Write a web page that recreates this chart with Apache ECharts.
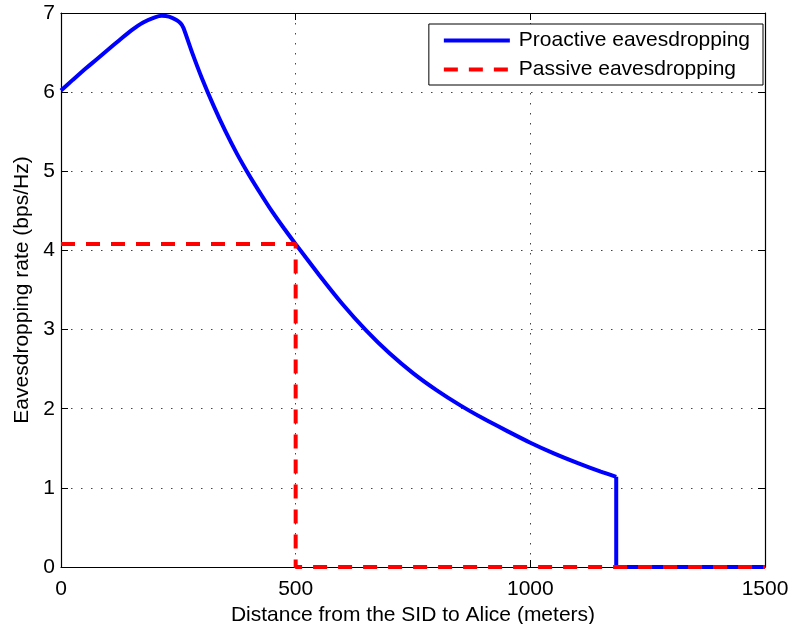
<!DOCTYPE html>
<html>
<head>
<meta charset="utf-8">
<script src="https://cdn.jsdelivr.net/npm/echarts@6/dist/echarts.min.js"></script>
<style>
html,body{margin:0;padding:0;background:#fff;}
#chart{width:789px;height:624px;}
</style>
</head>
<body>
<div id="chart"></div>
<script>
// Data
// Proactive eavesdropping: smooth part of the curve
const curveDistances = [0,25,50,75,100,125,150,175,200,215,230,245,255,261,280,300,325,350,375,400,425,450,475,500,550,600,650,700,750,800,850,900,950,1000,1050,1100,1150,1183];
const curveRates = [6.02,6.155,6.285,6.41,6.535,6.66,6.78,6.88,6.945,6.965,6.955,6.915,6.87,6.81,6.49,6.18,5.83,5.51,5.22,4.96,4.72,4.49,4.28,4.08,3.69,3.32,2.99,2.70,2.45,2.235,2.045,1.875,1.72,1.57,1.435,1.315,1.205,1.14];
// Proactive eavesdropping: drop to zero and zero tail
const dropDistances = [1183,1183,1500];
const dropRates = [1.14,0,0];
// Passive eavesdropping
const passiveX = [0,500,500,1500];
const passiveY = [4.08,4.08,0,0];
const xTicks = [0,500,1000,1500];
const yTicks = [0,1,2,3,4,5,6,7];
const seriesNames = ['Proactive eavesdropping','Passive eavesdropping'];

const FONT = "'Liberation Sans', Arial, Helvetica, sans-serif";
const FS = 21;
const curveData = curveDistances.map((d,i)=>[d, curveRates[i]]);
const dropData = dropDistances.map((d,i)=>[d, dropRates[i]]);
const passiveData = passiveX.map((d,i)=>[d, passiveY[i]]);

const gridLine = {show:true, lineStyle:{color:'#444', width:1, type:[1.5,8.5]}};
const chart = echarts.init(document.getElementById('chart'), null, {renderer:'canvas'});
chart.setOption({
  animation:false,
  backgroundColor:'#fff',
  textStyle:{fontFamily:FONT},
  grid:{left:61, right:24, top:13, bottom:57, containLabel:false, outerBoundsMode:'none'},
  legend:{
    orient:'vertical', right:26, top:24,
    padding:[6,13,5,13], itemGap:8, itemWidth:66, itemHeight:14,
    backgroundColor:'#fff', borderColor:'#000', borderWidth:1, borderRadius:0,
    itemStyle:{opacity:0},
    lineStyle:{width:4},
    textStyle:{fontFamily:FONT, fontSize:FS, color:'#000', lineHeight:20, padding:[0,0,0,4]},
    data:seriesNames
  },
  xAxis:[{
    type:'value', min:xTicks[0], max:xTicks[xTicks.length-1], interval:500, position:'bottom',
    name:'Distance from the SID to Alice (meters)', nameLocation:'middle', nameGap:38,
    nameTextStyle:{fontFamily:FONT, fontSize:FS, color:'#000'},
    axisLine:{show:true, onZero:false, lineStyle:{color:'#000', width:1.2}},
    axisTick:{show:true, inside:true, length:7, lineStyle:{color:'#000'}},
    axisLabel:{fontFamily:FONT, fontSize:FS, color:'#000', margin:12, formatter:v=>String(v)},
    splitLine:gridLine
  },{
    type:'value', min:xTicks[0], max:xTicks[xTicks.length-1], interval:500, position:'top',
    axisLine:{show:true, onZero:false, lineStyle:{color:'#000', width:1.2}},
    axisTick:{show:true, inside:true, length:7, lineStyle:{color:'#000'}},
    axisLabel:{show:false}, splitLine:{show:false}
  }],
  yAxis:[{
    type:'value', min:yTicks[0], max:yTicks[yTicks.length-1], interval:1, position:'left',
    name:'Eavesdropping rate (bps/Hz)', nameLocation:'middle', nameGap:28, nameRotate:90,
    nameTextStyle:{fontFamily:FONT, fontSize:FS, color:'#000'},
    axisLine:{show:true, onZero:false, lineStyle:{color:'#000', width:1.2}},
    axisTick:{show:true, inside:true, length:7, lineStyle:{color:'#000'}},
    axisLabel:{fontFamily:FONT, fontSize:FS, color:'#000', margin:6, formatter:v=>String(v)},
    splitLine:gridLine
  },{
    type:'value', min:yTicks[0], max:yTicks[yTicks.length-1], interval:1, position:'right',
    axisLine:{show:true, onZero:false, lineStyle:{color:'#000', width:1.2}},
    axisTick:{show:true, inside:true, length:7, lineStyle:{color:'#000'}},
    axisLabel:{show:false}, splitLine:{show:false}
  }],
  series:[{
    name:seriesNames[0], type:'line', data:curveData, xAxisIndex:0, yAxisIndex:0,
    symbol:'none', showSymbol:false, smooth:0.2, z:3,
    lineStyle:{color:'#0000ff', width:4}, itemStyle:{color:'#0000ff'}
  },{
    name:seriesNames[0], type:'line', data:dropData, xAxisIndex:0, yAxisIndex:0,
    symbol:'none', showSymbol:false, smooth:false, z:3,
    lineStyle:{color:'#0000ff', width:4}, itemStyle:{color:'#0000ff'}
  },{
    name:seriesNames[1], type:'line', data:passiveData, xAxisIndex:0, yAxisIndex:0,
    symbol:'none', showSymbol:false, z:4,
    lineStyle:{color:'#ff0000', width:4, type:[14,11]}, itemStyle:{color:'#ff0000'}
  }]
});
</script>
</body>
</html>
